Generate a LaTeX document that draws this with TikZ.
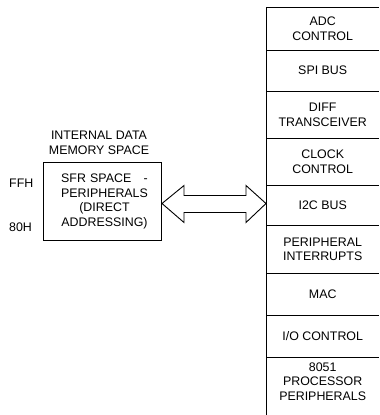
\documentclass[tikz,border=0pt]{standalone}
\usepackage{fontspec}
\setmainfont{Liberation Sans}
\usetikzlibrary{calc}
\begin{document}
\begin{tikzpicture}[x=1pt,y=-1pt,
  every node/.style={font=\fontsize{12.4}{14.5}\selectfont, inner sep=0pt, align=center},
  rule/.style={line width=1pt, draw=black},
  periph/.style={minimum width=113pt, anchor=north west}]
\useasboundingbox (0,0) rectangle (380,415);

% peripheral stack on the right
\node[periph, minimum height=43pt] (adc)  at (266,7)   {ADC\\CONTROL};
\node[periph, minimum height=41pt] (spi)  at (266,50)  {SPI BUS};
\node[periph, minimum height=47pt] (diff) at (266,91)  {DIFF\\TRANSCEIVER};
\node[periph, minimum height=47pt] (clk)  at (266,138) {CLOCK\\CONTROL};
\node[periph, minimum height=40pt] (i2c)  at (266,185) {I2C BUS};
\node[periph, minimum height=48pt] (pint) at (266,225) {PERIPHERAL\\INTERRUPTS};
\node[periph, minimum height=42pt] (mac)  at (266,273) {MAC};
\node[periph, minimum height=42pt] (io)   at (266,315) {I/O CONTROL};
\node[periph, minimum height=49pt] (cpu)  at (266,357) {8051\\PROCESSOR\\PERIPHERALS};
\coordinate (stackend) at (266,416);

\draw[rule] (adc.north west) -- (stackend);
\foreach \b in {adc,spi,diff,clk,i2c,pint,mac,io,cpu}
  \draw[rule] (\b.north west) -- (\b.north east);

% SFR memory block on the left
\node[draw, rule, minimum width=118pt, minimum height=78pt, anchor=north west,
      text width=110pt] (sfr) at (43,162) {\hspace*{4pt}SFR SPACE\ \ \ -\\\hspace*{4pt}PERIPHERALS\\\hspace*{4pt}(DIRECT\\\hspace*{4pt}ADDRESSING)};
\node (title) at (99,143) {INTERNAL DATA\\MEMORY SPACE};
\node[anchor=west] (ffh) at (9,183) {FFH};
\node[anchor=west] (low) at (9,227) {80H};

% double-headed bus arrow between the block and the stack
\coordinate (a) at ($(sfr.east)+(0,2)$);
\coordinate (b) at (i2c.west |- a);
\draw[line width=0.9pt] (a) -- ($(a)+(22,-18)$) -- ($(a)+(22,-8)$) -- ($(b)+(-20,-8)$)
  -- ($(b)+(-20,-18)$) -- (b) -- ($(b)+(-20,19)$) -- ($(b)+(-20,9)$)
  -- ($(a)+(22,9)$) -- ($(a)+(22,19)$) -- cycle;
\end{tikzpicture}
\end{document}
